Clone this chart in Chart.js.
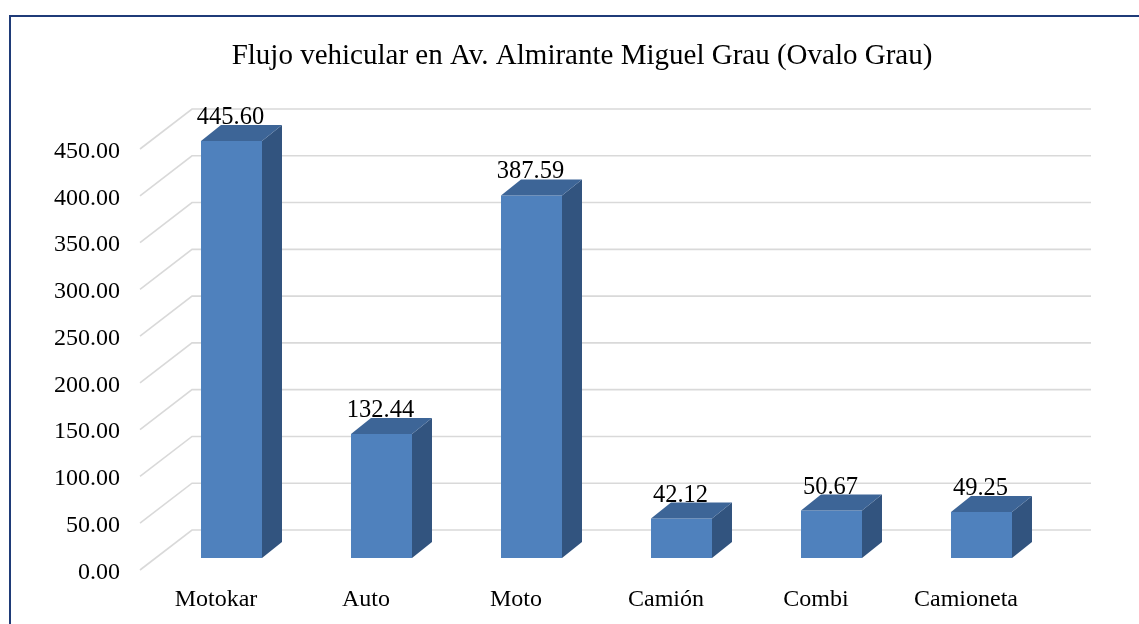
<!DOCTYPE html>
<html>
<head>
<meta charset="utf-8">
<script src="https://cdn.jsdelivr.net/npm/chart.js@4/dist/chart.umd.min.js"></script>
<style>
  html, body { margin: 0; padding: 0; background: #ffffff; }
  #wrap { width: 1139px; height: 624px; position: relative; }
</style>
</head>
<body>
<div id="wrap"><canvas id="c" width="1139" height="624"></canvas></div>
<script>
// ---- data ----
const categories = ['Motokar', 'Auto', 'Moto', 'Camión', 'Combi', 'Camioneta'];
const flujo = [445.60, 132.44, 387.59, 42.12, 50.67, 49.25];
const yTickValues = [0, 50, 100, 150, 200, 250, 300, 350, 400, 450];

// ---- style ----
const FONT = "'Liberation Serif', 'Times New Roman', serif";
const FRONT = '#4F81BD', TOP = '#3D6597', SIDE = '#32547F';
const GRID = '#D9D9D9';
const DEPTH_DX = 20, DEPTH_DY = 16;      // bar depth
const FRONT_DY = 12, BACK_DY = 28;       // floor planes relative to bar plane

const framePlugin = {
  id: 'frame',
  beforeDraw(chart) {
    const ctx = chart.ctx;
    ctx.save();
    ctx.fillStyle = '#ffffff';
    ctx.fillRect(0, 0, chart.width, chart.height);
    ctx.strokeStyle = '#1F3B78';
    ctx.lineWidth = 2;
    ctx.strokeRect(10, 16, chart.width + 20, chart.height + 20);
    ctx.restore();
  }
};

const grid3dPlugin = {
  id: 'grid3d',
  beforeDatasetsDraw(chart) {
    const ctx = chart.ctx, y = chart.scales.y, a = chart.chartArea;
    const xf = a.left - 16.5, xb = a.left + 35.5, xe = a.right + 34.5;
    ctx.save();
    ctx.strokeStyle = GRID;
    ctx.lineWidth = 1.6;
    yTickValues.forEach(v => {
      const p = y.getPixelForValue(v);
      ctx.beginPath();
      ctx.moveTo(xf, p + FRONT_DY);
      ctx.lineTo(xb, p - BACK_DY);
      ctx.lineTo(xe, p - BACK_DY);
      ctx.stroke();
    });
    ctx.restore();
  }
};

const bar3dPlugin = {
  id: 'bar3d',
  afterDatasetsDraw(chart) {
    const ctx = chart.ctx;
    const meta = chart.getDatasetMeta(0);
    ctx.save();
    meta.data.forEach((bar, i) => {
      const p = bar.getProps(['x', 'y', 'base', 'width'], true);
      const l = p.x - p.width / 2, r = p.x + p.width / 2, t = p.y, b = p.base;
      ctx.fillStyle = SIDE;
      ctx.beginPath();
      ctx.moveTo(r, t); ctx.lineTo(r + DEPTH_DX, t - DEPTH_DY);
      ctx.lineTo(r + DEPTH_DX, b - DEPTH_DY); ctx.lineTo(r, b); ctx.closePath();
      ctx.fill();
      ctx.fillStyle = TOP;
      ctx.beginPath();
      ctx.moveTo(l, t); ctx.lineTo(l + DEPTH_DX, t - DEPTH_DY);
      ctx.lineTo(r + DEPTH_DX, t - DEPTH_DY); ctx.lineTo(r, t); ctx.closePath();
      ctx.fill();
      ctx.fillStyle = '#000000';
      ctx.font = '24.5px ' + FONT;
      ctx.textAlign = 'center';
      ctx.textBaseline = 'alphabetic';
      ctx.fillText(flujo[i].toFixed(2), p.x - 1, t - DEPTH_DY - 1);
    });
    ctx.restore();
  }
};

new Chart(document.getElementById('c'), {
  type: 'bar',
  data: {
    labels: categories,
    datasets: [{
      data: flujo,
      backgroundColor: FRONT,
      borderWidth: 0,
      categoryPercentage: 1,
      barPercentage: 0.4067,
      yAxisID: 'y'
    }]
  },
  options: {
    responsive: false,
    animation: false,
    devicePixelRatio: 1,
    layout: { padding: { left: 40, right: 15, top: 0, bottom: 0 } },
    plugins: {
      legend: { display: false },
      tooltip: { enabled: false },
      title: {
        display: true,
        text: 'Flujo vehicular en Av. Almirante Miguel Grau (Ovalo Grau)',
        color: '#000000',
        font: { family: FONT, size: 29, weight: 'normal', lineHeight: 1.2 },
        padding: { top: 39, bottom: 63.2 }
      }
    },
    scales: {
      x: {
        offset: true,
        grid: { display: false, drawTicks: false },
        border: { display: false },
        ticks: {
          color: '#000000',
          font: { family: FONT, size: 24 },
          padding: 27.5,
          labelOffset: -15.5,
          maxRotation: 0, autoSkip: false
        },
        afterFit(s) { s.height = 66; }
      },
      y: {
        position: 'left',
        min: 0, max: 450,
        grid: { display: false, drawTicks: false },
        border: { display: false },
        afterBuildTicks(s) { s.ticks = yTickValues.map(v => ({ value: v })); },
        ticks: {
          color: '#000000',
          font: { family: FONT, size: 24 },
          padding: 36.5,
          labelOffset: 14.5,
          callback: v => Number(v).toFixed(2)
        },
        afterFit(s) { s.width = 116.5; }
      },
      yRight: {
        position: 'right',
        display: true,
        min: 0, max: 450,
        grid: { display: false, drawTicks: false },
        border: { display: false },
        ticks: { display: false },
        afterFit(s) { s.width = 67.5; }
      }
    }
  },
  plugins: [framePlugin, grid3dPlugin, bar3dPlugin]
});
</script>
</body>
</html>
